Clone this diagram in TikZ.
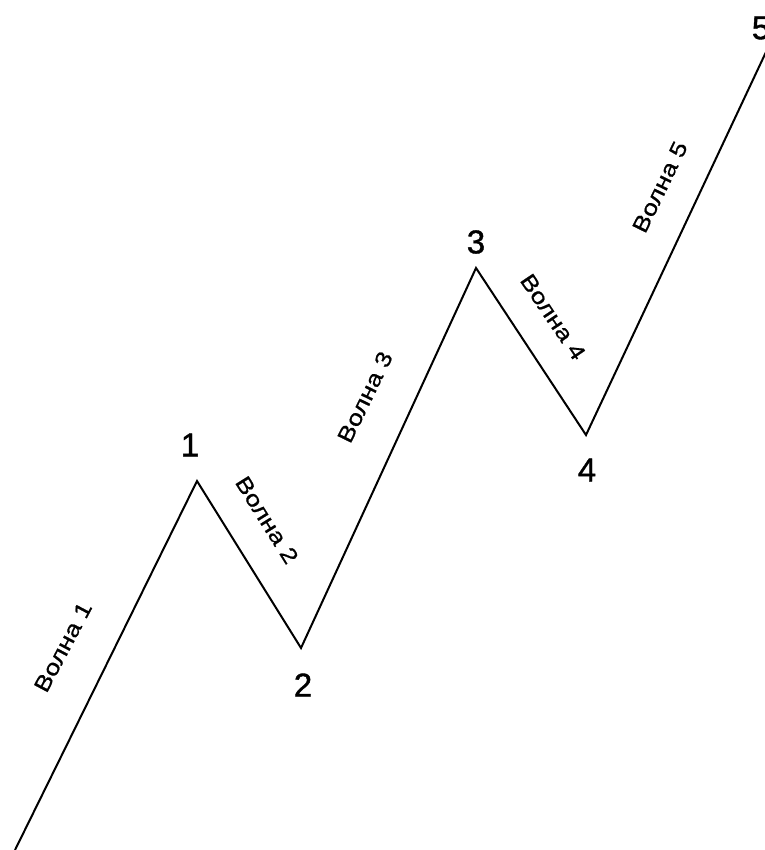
\documentclass[tikz,border=0pt]{standalone}
\usepackage{fontspec}
\setmainfont{Liberation Sans}
\newfontfamily\wavefont[FakeStretch=1.2,FakeBold=0.8]{Liberation Sans}
\newfontfamily\numfont[FakeBold=1.2]{Liberation Sans}
\usepackage{tikz}
\usetikzlibrary{calc}

\begin{document}
\begin{tikzpicture}[x=1pt,y=-1pt,
  wavelabel/.style={font=\wavefont\fontsize{22}{24}\selectfont,inner sep=0pt},
  pointlabel/.style={font=\numfont\fontsize{33}{36}\selectfont,inner sep=0pt}]
        \useasboundingbox (0,0) rectangle (764,850);
        % turning points
        \coordinate (p0) at (15,850);
        \coordinate (p1) at (197,481);
        \coordinate (p2) at (301,648);
        \coordinate (p3) at (476,268);
        \coordinate (p4) at (586,435);
        \coordinate (p5) at (766,52);
        \draw[line width=2pt,line join=miter] (p0) -- (p1) -- (p2) -- (p3) -- (p4) -- (p5);
        % wave labels
        \node[wavelabel,rotate=62] (w1) at (63,647) {Волна 1};
        \node[wavelabel,rotate=-58] (w2) at (267,520) {Волна 2};
        \node[wavelabel,rotate=64] (w3) at (365,397) {Волна 3};
        \node[wavelabel,rotate=-56] (w4) at (553,317) {Волна 4};
        \node[wavelabel,rotate=64] (w5) at (660,187) {Волна 5};
        % point numbers
        \node[pointlabel] (n1) at (190,445) {1};
        \node[pointlabel] (n2) at (303,685) {2};
        \node[pointlabel] (n3) at (476,242) {3};
        \node[pointlabel] (n4) at (587,470) {4};
        \node[pointlabel] (n5) at (761,28) {5};
      \end{tikzpicture}
\end{document}
